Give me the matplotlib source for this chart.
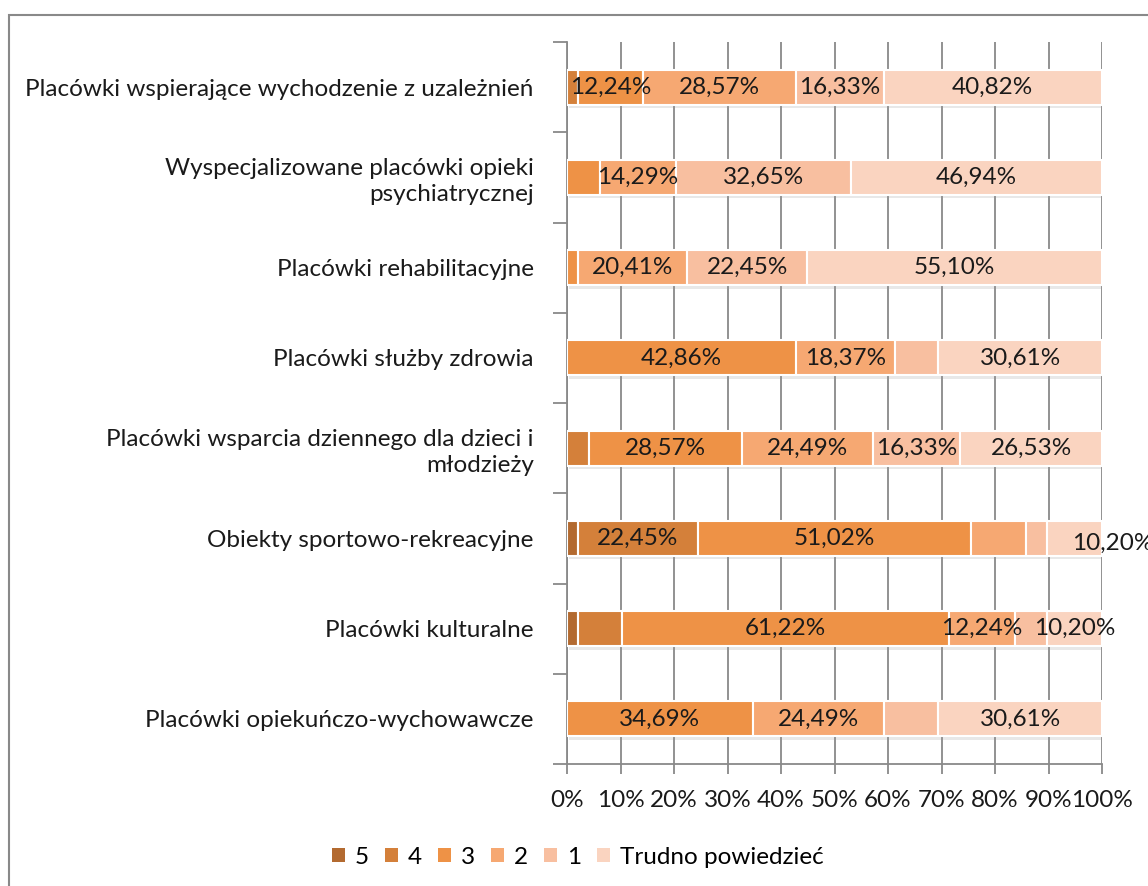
import matplotlib
matplotlib.use('Agg')
import matplotlib.pyplot as plt
from matplotlib import patheffects as pe
from matplotlib.patches import Rectangle
import numpy as np

categories = [
    "Placówki wspierające wychodzenie z uzależnień",
    "Wyspecjalizowane placówki opieki\npsychiatrycznej",
    "Placówki rehabilitacyjne",
    "Placówki służby zdrowia",
    "Placówki wsparcia dziennego dla dzieci i\nmłodzieży",
    "Obiekty sportowo-rekreacyjne",
    "Placówki kulturalne",
    "Placówki opiekuńczo-wychowawcze",
]
series_names = ["5", "4", "3", "2", "1", "Trudno powiedzieć"]
v5 = [0, 0, 0, 0, 0, 2.04, 2.04, 0]
v4 = [2.04, 0, 0, 0, 4.08, 22.45, 8.16, 0]
v3 = [12.24, 6.12, 2.04, 42.86, 28.57, 51.02, 61.22, 34.69]
v2 = [28.57, 14.29, 20.41, 18.37, 24.49, 10.20, 12.24, 24.49]
v1 = [16.33, 32.65, 22.45, 8.16, 16.33, 4.08, 6.12, 10.20]
vt = [40.82, 46.94, 55.10, 30.61, 26.53, 10.20, 10.20, 30.61]
colors = ["#B36A30", "#D4803A", "#EE9246", "#F6A872", "#F8BFA0", "#FAD4C0"]
xticklabels = ["0%", "10%", "20%", "30%", "40%", "50%", "60%", "70%", "80%", "90%", "100%"]

FONT = "Lato"
FS = 17.5

W, H = 1148, 886
fig = plt.figure(figsize=(W / 100, H / 100), dpi=100)
fig.patch.set_facecolor("white")

# outer chart border
fig.add_artist(Rectangle((9 / W, -0.05), 2, (H - 15) / H + 0.05, transform=fig.transFigure,
                         fill=False, edgecolor="#898989", linewidth=1.5))

ax = fig.add_axes([567 / W, 1 - 764 / H, (1102 - 567) / W, (764 - 42) / H])

data = [v5, v4, v3, v2, v1, vt]
n = len(categories)
y = np.arange(n)
left = np.zeros(n)
shadow = [pe.SimplePatchShadow(offset=(1.5, -2.5), shadow_rgbFace="#9a9a9a", alpha=0.22), pe.Normal()]
for si, (vals, col) in enumerate(zip(data, colors)):
    vals = np.array(vals, dtype=float)
    bars = ax.barh(y, vals, left=left, height=0.39, color=col, edgecolor="white",
                   linewidth=1.5, zorder=3, label=series_names[si])
    for b in bars:
        b.set_path_effects(shadow)
    for i, v in enumerate(vals):
        if v <= 0:
            continue
        if v >= 12 or si == 5:
            txt = f"{v:.2f}%".replace(".", ",")
            dx, dy = 0, 0
            if si == 5 and i == 5:
                dx, dy = 38, -5
            ax.annotate(txt, (left[i] + v / 2, i), xytext=(dx, dy),
                        textcoords="offset pixels", ha="center", va="center",
                        fontsize=FS, family=FONT, color="#1a1a1a", zorder=5,
                        annotation_clip=False)
    left += vals

ax.set_xlim(0, 100)
ax.set_ylim(n - 0.5, -0.5)
ax.set_xticks(np.arange(0, 101, 10))
ax.set_xticklabels(xticklabels, fontsize=FS, family=FONT, color="#1a1a1a")
ax.set_yticks(y)
ax.set_yticklabels(categories, fontsize=FS, family=FONT, color="#1a1a1a",
                   linespacing=1.3)
ax.set_yticks(np.arange(-0.5, n, 1), minor=True)
ax.tick_params(axis="y", which="major", length=0, pad=24)
ax.tick_params(axis="y", which="minor", length=10, width=1.3, color="#898989", direction="out")
ax.tick_params(axis="x", which="major", length=7, width=1.3, color="#898989", direction="out", pad=12)
ax.grid(axis="x", color="#898989", linewidth=1.3, zorder=0)
ax.set_axisbelow(True)
for s in ["top", "right"]:
    ax.spines[s].set_visible(False)
for s in ["left", "bottom"]:
    ax.spines[s].set_color("#898989")
    ax.spines[s].set_linewidth(1.3)

handles = [Rectangle((0, 0), 1, 1, facecolor=c, edgecolor="none") for c in colors]
fig.legend(handles, series_names, loc="center", bbox_to_anchor=(578 / W, 1 - 857 / H),
           ncol=6, frameon=False, handlelength=0.55, handleheight=0.55,
           handletextpad=0.4, columnspacing=0.65,
           prop={"family": FONT, "size": FS})

fig.savefig("out.png", dpi=100)
